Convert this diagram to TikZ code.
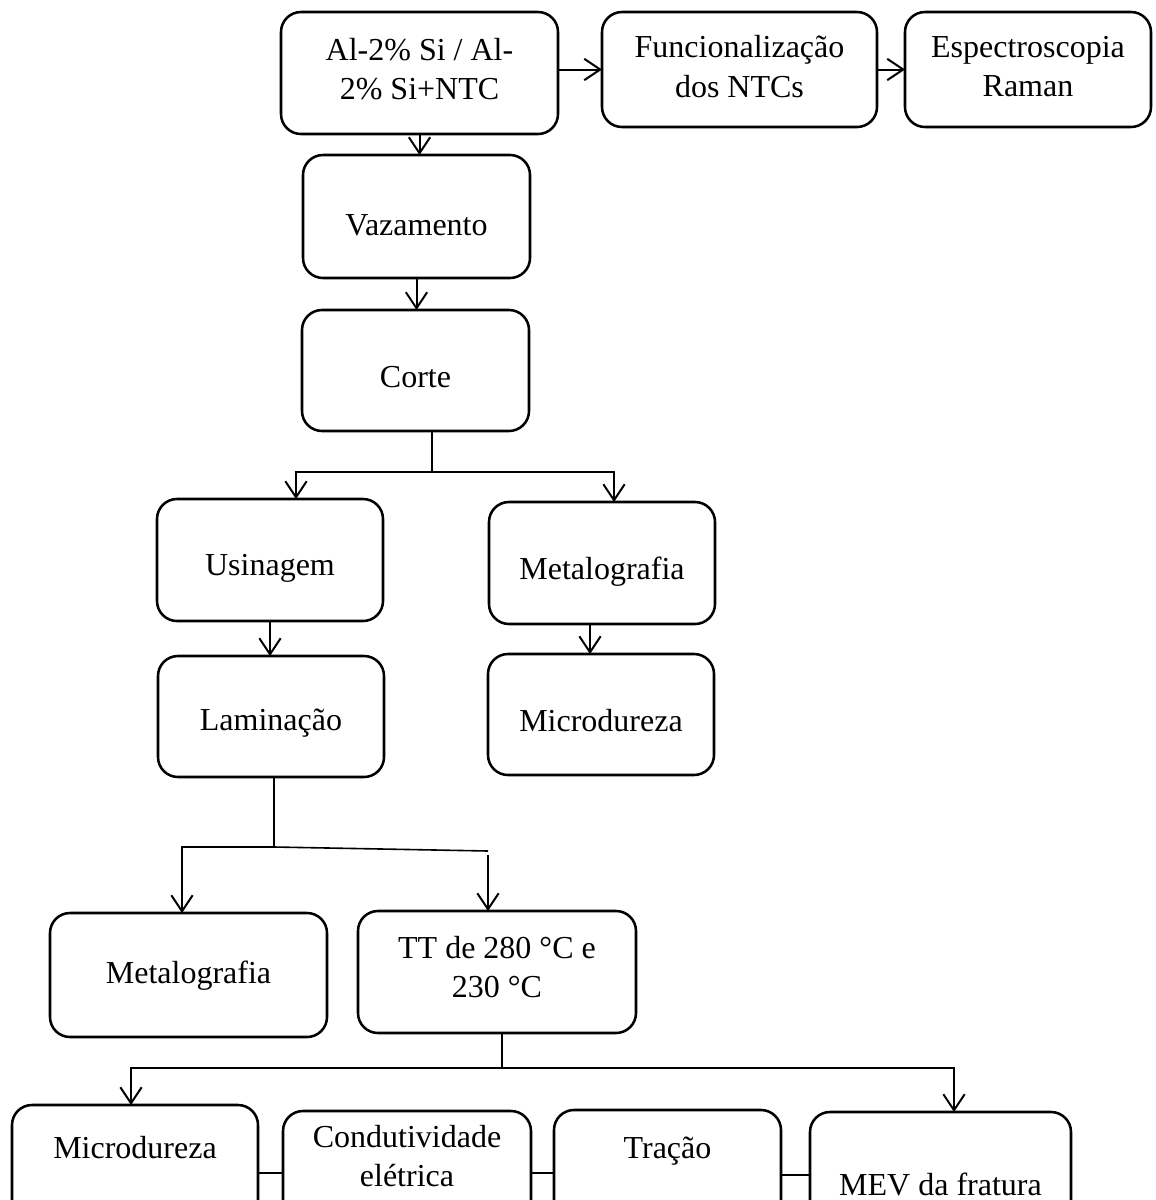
\documentclass[tikz,border=0pt]{standalone}
\usepackage{fontspec}
\setmainfont{Liberation Serif}
\usetikzlibrary{arrows.meta,calc}
\tikzset{
  box/.style={draw, line width=1.9pt, rounded corners=15pt, inner sep=0pt, outer sep=0pt},
  txt/.style={inner sep=0pt, align=center, font=\fontsize{24}{29.5}\selectfont},
  arr/.style={line width=1.5pt, -{Straight Barb[length=12pt,width=16pt,line width=1.5pt]}},
  ln/.style={line width=1.5pt},
  thinln/.style={line width=1.2pt}
}
\begin{document}
\begin{tikzpicture}[x=0.75pt,y=-0.75pt]
\useasboundingbox (0,0) rectangle (1156,1200);
\clip (0,0) rectangle (1156,1200);
% boxes
\node[box, minimum width=277*0.75pt, minimum height=122*0.75pt] (al)    at (419.5,73)   {};
\node[box, minimum width=275*0.75pt, minimum height=115*0.75pt] (func)  at (739.5,69.5) {};
\node[box, minimum width=246*0.75pt, minimum height=115*0.75pt] (esp)   at (1028,69.5)  {};
\node[box, minimum width=227*0.75pt, minimum height=123*0.75pt] (vaz)   at (416.5,216.5) {};
\node[box, minimum width=227*0.75pt, minimum height=121*0.75pt] (corte) at (415.5,370.5) {};
\node[box, minimum width=226*0.75pt, minimum height=122*0.75pt] (usin)  at (270,560)    {};
\node[box, minimum width=226*0.75pt, minimum height=122*0.75pt] (metR)  at (602,563)    {};
\node[box, minimum width=226*0.75pt, minimum height=121*0.75pt] (lam)   at (271,716.5)  {};
\node[box, minimum width=226*0.75pt, minimum height=121*0.75pt] (micR)  at (601,714.5)  {};
\node[box, minimum width=277*0.75pt, minimum height=124*0.75pt] (metL)  at (188.5,975)  {};
\node[box, minimum width=278*0.75pt, minimum height=122*0.75pt] (tt)    at (497,972)    {};
\node[box, minimum width=246*0.75pt, minimum height=117*0.75pt] (micB)  at (135,1163.5) {};
\node[box, minimum width=248*0.75pt, minimum height=111*0.75pt] (cond)  at (407,1166.5) {};
\node[box, minimum width=227*0.75pt, minimum height=112*0.75pt] (trac)  at (667.5,1166) {};
\node[box, minimum width=261*0.75pt, minimum height=110*0.75pt] (mev)   at (940.5,1167) {};
% texts
\node[txt] (alT)    at (419.5,69)  {Al-2\% Si / Al-\\2\% Si+NTC};
\node[txt] (funcT)  at (739.5,66.5){Funcionalização\\dos NTCs};
\node[txt] (espT)   at (1028,66.5) {Espectroscopia\\Raman};
\node[txt] (vazT)   at (416.5,225) {Vazamento};
\node[txt] (corteT) at (415.5,377) {Corte};
\node[txt] (usinT)  at (270,568)   {Usinagem};
\node[txt] (metRT)  at (602,572)   {Metalografia};
\node[txt] (lamT)   at (271,723)   {Laminação};
\node[txt] (micRT)  at (601,721)   {Microdureza};
\node[txt] (metLT)  at (188.5,976) {Metalografia};
\node[txt] (ttT)    at (497,967)   {TT de 280 °C e\\230 °C};
\node[txt] (micBT)  at (135,1148)  {Microdureza};
\node[txt] (condT)  at (407,1156)  {Condutividade\\elétrica};
\node[txt] (tracT)  at (667.5,1151){Tração};
\node[txt] (mevT)   at (940.5,1184){MEV da fratura};
% top connectors
\draw[arr] (func.west -| al.east) -- (func.west);
\draw[arr] (func.east) -- (esp.west);
\draw[arr] (al.south) -- (al.south |- vaz.north);
\draw[arr] (vaz.south) -- (vaz.south |- corte.north);
% corte branch
\coordinate (cB)  at (432,472);
\coordinate (cBL) at (296,472);
\coordinate (cBR) at (614,472);
\draw[thinln] (corte.south -| cB) -- (cB);
\draw[arr] (cB) -- (cBL) -- (cBL |- usin.north);
\draw[arr] (cB) -- (cBR) -- (cBR |- metR.north);
\draw[arr] (usin.south) -- (usin.south |- lam.north);
\draw[arr] ([xshift=-9pt]metR.south) -- ([xshift=-9pt]metR.south |- micR.north);
% laminacao branch
\coordinate (lB)  at (274,847);
\coordinate (lBL) at (182,847);
\coordinate (lBR) at (488,851);
\coordinate (lBR2) at (488,855);
\draw[ln] (lam.south -| lB) -- (lB);
\draw[arr] (lB) -- (lBL) -- (lBL |- metL.north);
\draw[thinln] (lB) -- (lBR);
\draw[arr] (lBR2) -- (lBR2 |- tt.north);
% TT branch
\coordinate (tB)  at (502,1068);
\coordinate (tBL) at (131,1068);
\coordinate (tBR) at (954,1068);
\draw[thinln] (tt.south -| tB) -- (tB);
\draw[arr] (tB) -- (tBL) -- (tBL |- micB.north);
\draw[arr] (tB) -- (tBR) -- (tBR |- mev.north);
% bottom row links
\coordinate (h1) at (0,1173);
\coordinate (h2) at (0,1175);
\draw[thinln] (micB.east |- h1) -- (cond.west |- h1);
\draw[thinln] (cond.east |- h1) -- (trac.west |- h1);
\draw[thinln] (trac.east |- h2) -- (mev.west |- h2);
\end{tikzpicture}
\end{document}
